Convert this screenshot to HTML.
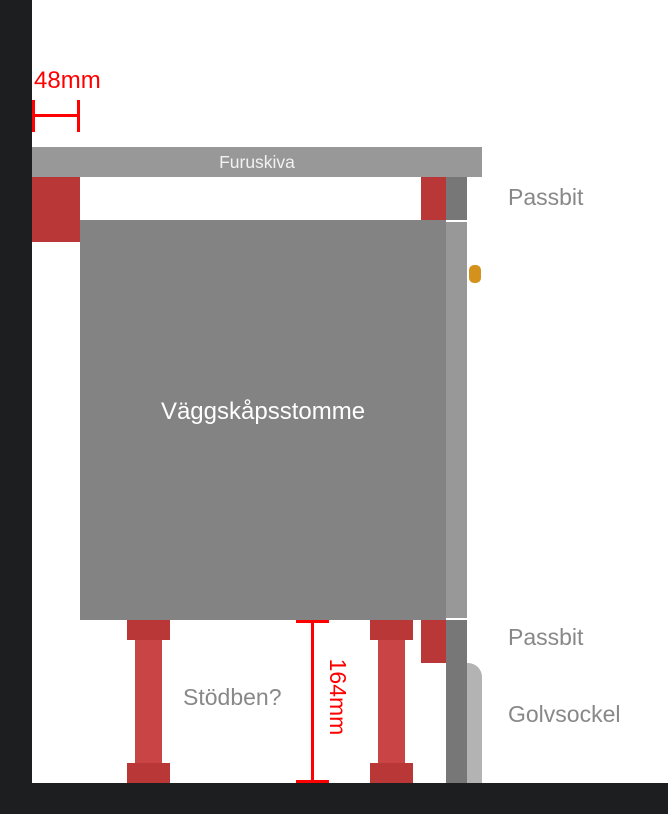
<!DOCTYPE html>
<html><head><meta charset="utf-8"><style>
body{margin:0;width:668px;height:814px;background:#fff;position:relative;overflow:hidden;font-family:"Liberation Sans",sans-serif}
div{position:absolute;box-sizing:border-box;white-space:nowrap}
.red{background:#b93737}
.leg{background:#c94444}
.t{color:#888;font-size:23px}
</style></head><body>
<div style="left:0;top:0;width:32px;height:814px;background:#1d1e20"></div>
<div style="left:0;top:783px;width:668px;height:31px;background:#1d1e20"></div>

<div style="left:34px;top:67px;color:#f00;font-size:24px">48mm</div>
<div style="left:32px;top:100px;width:3px;height:32px;background:#f00"></div>
<div style="left:77px;top:100px;width:3px;height:32px;background:#f00"></div>
<div style="left:32px;top:114px;width:48px;height:3px;background:#f00"></div>

<div style="left:32px;top:147px;width:450px;height:30px;background:#989898;color:#f2f2f2;font-size:17.5px;text-align:center;line-height:30px">Furuskiva</div>
<div class="red" style="left:32px;top:177px;width:48px;height:65px"></div>
<div class="red" style="left:421px;top:177px;width:25px;height:43px"></div>
<div style="left:446px;top:177px;width:21px;height:43px;background:#777"></div>
<div style="left:80px;top:220px;width:366px;height:400px;background:#838383;color:#fff;font-size:24px;text-align:center;line-height:384px">Väggskåpsstomme</div>
<div style="left:446px;top:222px;width:21px;height:396px;background:#989898"></div>
<div style="left:469px;top:265px;width:12px;height:18px;border-radius:5px;background:#d4921c"></div>

<div class="t" style="left:508px;top:184px">Passbit</div>
<div class="t" style="left:508px;top:624px">Passbit</div>
<div class="t" style="left:508px;top:701px">Golvsockel</div>

<div style="left:446px;top:620px;width:21px;height:163px;background:#777"></div>
<div class="red" style="left:421px;top:620px;width:25px;height:43px"></div>
<div style="left:467px;top:663px;width:15px;height:120px;background:#b3b3b3;border-top-right-radius:14px"></div>

<div class="red" style="left:127px;top:620px;width:43px;height:20px"></div>
<div class="leg" style="left:135px;top:640px;width:27px;height:123px"></div>
<div class="red" style="left:127px;top:763px;width:43px;height:20px"></div>
<div class="red" style="left:370px;top:620px;width:43px;height:20px"></div>
<div class="leg" style="left:378px;top:640px;width:27px;height:123px"></div>
<div class="red" style="left:370px;top:763px;width:43px;height:20px"></div>

<div class="t" style="left:183px;top:684px">Stödben?</div>

<div style="left:311px;top:620px;width:3px;height:163px;background:#f00"></div>
<div style="left:296px;top:620px;width:33px;height:3px;background:#f00"></div>
<div style="left:296px;top:780px;width:33px;height:3px;background:#f00"></div>
<div style="left:278px;top:684px;width:120px;height:26px;color:#f00;font-size:23px;text-align:center;transform:rotate(90deg)">164mm</div>
</body></html>
